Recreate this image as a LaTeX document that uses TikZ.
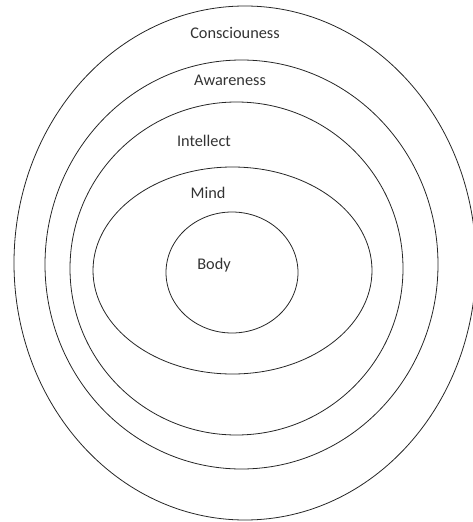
\documentclass[tikz,border=0pt]{standalone}
\usepackage{fontspec}
\setmainfont{Carlito}
\begin{document}
\begin{tikzpicture}[x=1pt,y=-1pt,
  ring/.style={draw=black!85,line width=0.8pt},
  lbl/.style={font=\fontsize{16.3}{19}\selectfont,text=black!80,inner sep=0pt}]
\useasboundingbox (0,0) rectangle (473,522);
\begin{scope}
\clip (0,0) rectangle (473,522);
\path[ring] (245,263) ellipse (231 and 257);
\end{scope}
\path[ring] (241.5,264.5) ellipse (196.5 and 204.5);
\path[ring] (236.5,268.5) ellipse (166.5 and 166.5);
\path[ring] (232.5,270.5) ellipse (139.5 and 103.5);
\path[ring] (232,272.5) ellipse (66 and 60.5);
\node[lbl] (consc) at (235,33) {Consciouness};
\node[lbl] (aware) at (230,80) {Awareness};
\node[lbl] (intel) at (204,141) {Intellect};
\node[lbl] (mind) at (208,193) {Mind};
\node[lbl] (body) at (214,265) {Body};
\end{tikzpicture}
\end{document}
